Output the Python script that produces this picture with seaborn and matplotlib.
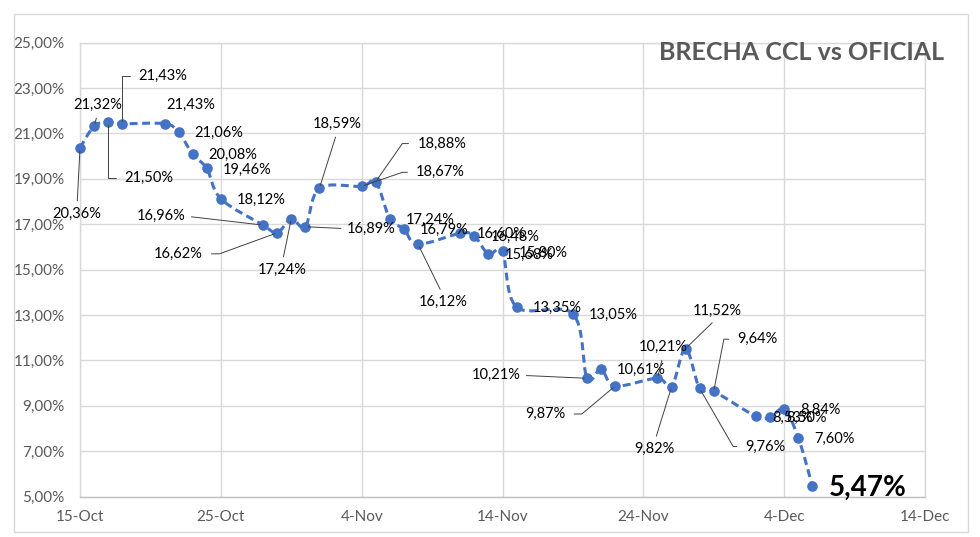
import numpy as np
import pandas as pd
import matplotlib
matplotlib.use("Agg")
import matplotlib.pyplot as plt
import matplotlib.dates as mdates
from matplotlib.path import Path
from matplotlib.patches import PathPatch, Rectangle
from matplotlib.ticker import FuncFormatter
import seaborn as sns

# datos
fechas = ['2024-10-15', '2024-10-16', '2024-10-17', '2024-10-18', '2024-10-21',
          '2024-10-22', '2024-10-23', '2024-10-24', '2024-10-25', '2024-10-28',
          '2024-10-29', '2024-10-30', '2024-10-31', '2024-11-01', '2024-11-04',
          '2024-11-05', '2024-11-06', '2024-11-07', '2024-11-08', '2024-11-11',
          '2024-11-12', '2024-11-13', '2024-11-14', '2024-11-15', '2024-11-19',
          '2024-11-20', '2024-11-21', '2024-11-22', '2024-11-25', '2024-11-26',
          '2024-11-27', '2024-11-28', '2024-11-29', '2024-12-02', '2024-12-03',
          '2024-12-04', '2024-12-05', '2024-12-06']
brecha = [20.36, 21.32, 21.50, 21.43, 21.43, 21.06, 20.08, 19.46, 18.12, 16.96,
          16.62, 17.24, 16.89, 18.59, 18.67, 18.88, 17.24, 16.79, 16.12, 16.60,
          16.48, 15.68, 15.80, 13.35, 13.05, 10.21, 10.61, 9.87, 10.21, 9.82,
          11.52, 9.76, 9.64, 8.53, 8.50, 8.84, 7.60, 5.47]
titulo = "BRECHA CCL vs OFICIAL"

df = pd.DataFrame({"fecha": pd.to_datetime(fechas), "brecha": brecha})

# posiciones de etiquetas (px, dy hacia abajo), relpos, estilo de linea guia
etiquetas = {
    0: (-3, 66, (0.5, 1), None),
    1: (4, -21, (0.5, 0), None),
    2: (41, 56, (0, 0.5), 90),
    3: (41, -48, (0, 0.5), 90),
    4: (26, -19, None, None),
    9: (-102, -9, (1, 0.5), None),
    10: (-99, 21, (1, 0.5), 20),
    11: (-9, 51, (0.5, 1), None),
    12: (66, 2, (0, 0.5), None),
    13: (18, -64, (0.5, 0), None),
    14: (79, -14, (0, 0.5), 19),
    15: (66, -38, (0, 0.5), 55),
    18: (25, 58, (0.5, 1), None),
    25: (-91, -3, (1, 0.5), None),
    27: (-70, 28, (1, 0.5), 40),
    28: (6, -31, (0.5, 0), None),
    29: (-17, 62, (0.5, 1), None),
    30: (32, -38, (0.5, 0), None),
    31: (66, 58, (0, 0.5), -60),
    32: (44, -52, (0, 0.5), 79),
}

sns.set_theme(style="whitegrid")
plt.rcParams['font.family'] = ['Lato', 'DejaVu Sans']

azul = '#4472C4'
gris = '#d9d9d9'

fig = plt.figure(figsize=(9.8, 5.37), dpi=100)
ax = fig.add_axes([80 / 980, 1 - 496.5 / 537, 845 / 980, 453.8 / 537])
fig.patches.append(Rectangle((14 / 980, 1 - 532 / 537), 954 / 980, 518 / 537,
                             transform=fig.transFigure, fill=False,
                             edgecolor=gris, lw=1))

# linea suavizada (bezier tipo Excel)
x = mdates.date2num(df["fecha"])
y = df["brecha"].to_numpy()
pts = np.column_stack([x, y])
verts = [pts[0]]
codes = [Path.MOVETO]
n = len(pts)
for i in range(n - 1):
    p0 = pts[max(i - 1, 0)]
    p1 = pts[i]
    p2 = pts[i + 1]
    p3 = pts[min(i + 2, n - 1)]
    verts += [p1 + (p2 - p0) / 6, p2 - (p3 - p1) / 6, p2]
    codes += [Path.CURVE4] * 3
ax.add_patch(PathPatch(Path(verts, codes), fill=False, edgecolor=azul,
                       lw=2.2, linestyle=(0, (2.6, 1.5)), zorder=3,
                       clip_on=False))

sns.scatterplot(data=df, x="fecha", y="brecha", ax=ax, color=azul, s=58,
                edgecolor=azul, linewidth=0, zorder=4, legend=False,
                clip_on=False)

# etiquetas
for i, (d, v) in enumerate(zip(df["fecha"], brecha)):
    txt = f"{v:.2f}%".replace('.', ',')
    if i == n - 1:
        ax.annotate(txt, (d, v), xytext=(16, -2), textcoords='offset pixels',
                    ha='left', va='center', fontsize=20, fontweight='bold',
                    color='black', zorder=5)
        continue
    if i not in etiquetas:
        ax.annotate(txt, (d, v), xytext=(16, -1), textcoords='offset pixels',
                    ha='left', va='center', fontsize=10.5, color='black', zorder=5)
        continue
    dx, dy, rel, ang = etiquetas[i]
    props = None
    if rel is not None:
        cs = "arc3" if ang is None else f"angle,angleA=0,angleB={ang},rad=0"
        props = dict(arrowstyle='-', color='#404040', lw=0.7, relpos=rel,
                     shrinkA=4 if ang is not None else 2, shrinkB=2,
                     connectionstyle=cs)
    ax.annotate(txt, (d, v), xytext=(dx, -dy), textcoords='offset pixels',
                ha='center', va='center', fontsize=10.5, color='black',
                arrowprops=props, zorder=5)

ax.set_xlim(pd.Timestamp('2024-10-15'), pd.Timestamp('2024-12-14'))
ax.set_ylim(5, 25)
ax.set_xticks(pd.date_range('2024-10-15', '2024-12-14', freq='10D'))
ax.xaxis.set_major_formatter(mdates.DateFormatter('%-d-%b'))
ax.set_yticks(np.arange(5, 26, 2))
ax.yaxis.set_major_formatter(FuncFormatter(lambda v, p: f"{v:.2f}%".replace('.', ',')))
ax.set_xlabel('')
ax.set_ylabel('')
ax.grid(True, color=gris, lw=1)
for s in ax.spines.values():
    s.set_color(gris)
    s.set_linewidth(1)
ax.spines['bottom'].set_color('#bfbfbf')
ax.tick_params(length=0, labelsize=11, colors='#595959')
ax.tick_params(axis='y', pad=11)
ax.tick_params(axis='x', pad=10)

fig.text(944 / 980, 1 - 52 / 537, titulo, ha='right', va='center',
         fontsize=18, fontweight='bold', color='#595959')

fig.savefig('out.png', dpi=100)
